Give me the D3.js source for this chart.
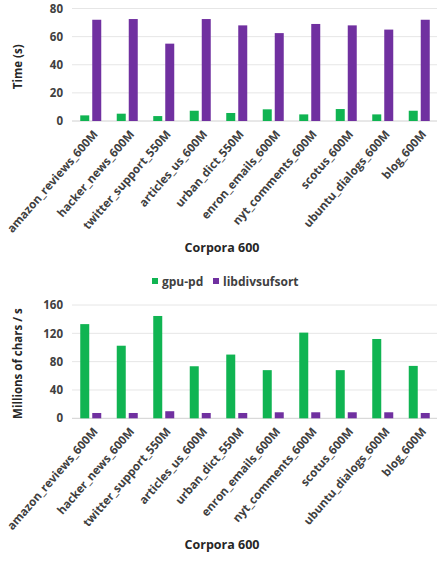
<!DOCTYPE html>
<html>
<head>
<meta charset="utf-8">
<script src="https://cdn.jsdelivr.net/npm/d3@7"></script>
<style>
  body { margin: 0; background: #fff; }
  text { font-family: "Open Sans", sans-serif; }
</style>
</head>
<body>
<script>
var corpora = ["amazon_reviews_600M", "hacker_news_600M", "twitter_support_550M", "articles_us_600M",
  "urban_dict_550M", "enron_emails_600M", "nyt_comments_600M", "scotus_600M", "ubuntu_dialogs_600M", "blog_600M"];
var seriesNames = ["gpu-pd", "libdivsufsort"];
var timeGpu = [4, 5.2, 3.5, 7.3, 5.7, 8.3, 4.7, 8.5, 4.7, 7.3];
var timeLib = [72, 72.5, 55, 72.5, 68, 62.5, 69, 68, 65, 72];
var rateGpu = [133, 102.5, 144.5, 73.5, 90, 68, 121, 68, 112, 74];
var rateLib = [7.5, 7.5, 10, 7.5, 7.5, 8.5, 8.5, 8.5, 8.5, 7.5];
var timeTicks = [0, 20, 40, 60, 80];
var rateTicks = [0, 40, 80, 120, 160];

var colors = ["#10b452", "#7030a0"];
var width = 442, height = 568;

var svg = d3.select("body").append("svg")
  .attr("width", width)
  .attr("height", height);

function drawChart(top, bottom, gpu, lib, ticks, ytitle, ymax) {
  var x = d3.scaleBand().domain(corpora).range([72, 437]);
  var y = d3.scaleLinear().domain([0, ymax]).range([bottom, top]);

  var g = svg.append("g");

  // gridlines
  g.selectAll(".grid").data(ticks).enter().append("line")
    .attr("x1", 72).attr("x2", 437)
    .attr("y1", function(d) { return y(d); })
    .attr("y2", function(d) { return y(d); })
    .attr("stroke", function(d) { return d == 0 ? "#d0d0d0" : "#e6e6e6"; })
    .attr("stroke-width", 1);

  var yAxis = d3.axisLeft(y).tickValues(ticks).tickSize(0).tickPadding(9);
  var ya = g.append("g").attr("transform", "translate(72,0)").call(yAxis);
  ya.select(".domain").remove();
  ya.selectAll("text")
    .attr("font-size", 11.5).attr("font-weight", "bold").attr("fill", "#404040")
    .style("font-family", "'Open Sans', sans-serif");

  var bw = 9;
  var grp = g.selectAll(".grp").data(corpora).enter().append("g")
    .attr("transform", function(d) { return "translate(" + x(d) + ",0)"; });

  grp.append("rect")
    .attr("x", function(d) { return x.bandwidth() / 2 - bw - 1; })
    .attr("width", bw)
    .attr("y", function(d, i) { return y(gpu[i]); })
    .attr("height", function(d, i) { return y(0) - y(gpu[i]); })
    .attr("fill", colors[0]);

  grp.append("rect")
    .attr("x", function(d) { return x.bandwidth() / 2 + 2; })
    .attr("width", bw)
    .attr("y", function(d, i) { return y(lib[i]); })
    .attr("height", function(d, i) { return y(0) - y(lib[i]); })
    .attr("fill", colors[1]);

  // rotated category labels
  g.selectAll(".xl").data(corpora).enter().append("text")
    .attr("transform", function(d) {
      return "translate(" + (x(d) + x.bandwidth() / 2 + 5) + "," + (bottom + 11) + ") rotate(-49)";
    })
    .attr("text-anchor", "end")
    .attr("dy", "0.35em")
    .attr("font-size", 11.6)
    .attr("font-weight", "bold")
    .attr("fill", "#404040")
    .text(function(d) { return d; });

  g.append("text")
    .attr("transform", "translate(22," + ((top + bottom) / 2 + 2) + ") rotate(-90)")
    .attr("text-anchor", "middle")
    .attr("font-size", 11.5)
    .attr("font-weight", "bold")
    .attr("fill", "#262626")
    .text(ytitle);

  g.append("text")
    .attr("x", 222)
    .attr("y", bottom + 131)
    .attr("text-anchor", "middle")
    .attr("font-size", 12.5)
    .attr("font-weight", "bold")
    .attr("fill", "#262626")
    .text("Corpora 600");
}

drawChart(8.5, 121, timeGpu, timeLib, timeTicks, "Time (s)", 80);
drawChart(305, 418.3, rateGpu, rateLib, rateTicks, "Millions of chars / s", 160);

// legend
var legend = svg.append("g").attr("transform", "translate(152,282)");
var lx = [0, 61];
seriesNames.forEach(function(s, i) {
  legend.append("rect").attr("x", lx[i]).attr("y", -4).attr("width", 6).attr("height", 6).attr("fill", colors[i]);
  legend.append("text").attr("x", lx[i] + 10).attr("y", 0).attr("dy", "0.35em")
    .attr("font-size", 12).attr("font-weight", "bold").attr("fill", "#404040").text(s);
});
</script>
</body>
</html>
